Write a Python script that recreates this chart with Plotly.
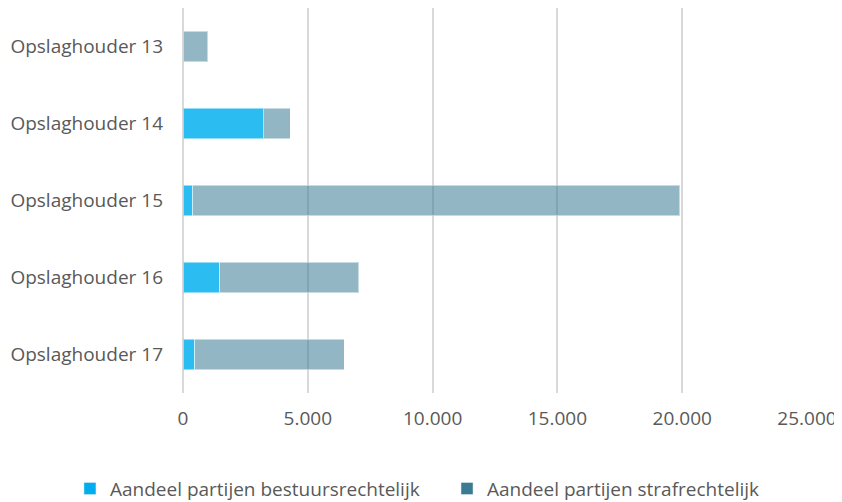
import plotly.graph_objects as go

categories = ["Opslaghouder 13", "Opslaghouder 14", "Opslaghouder 15", "Opslaghouder 16", "Opslaghouder 17"]
bestuursrechtelijk = [0, 3220, 400, 1480, 480]
strafrechtelijk = [990, 1080, 19500, 5560, 5990]
series_names = ["Aandeel partijen bestuursrechtelijk", "Aandeel partijen strafrechtelijk"]
tick_values = [0, 5000, 10000, 15000, 20000, 25000]

legend_colors = ["#00AEEF", "#3A7A93"]
bar_colors = ["rgba(0,174,239,0.83)", "rgba(58,122,147,0.55)"]
edge_colors = ["rgba(255,255,255,0.5)", "rgba(255,255,255,0.5)"]

fig = go.Figure()
for vals, name, bc, ec in zip([bestuursrechtelijk, strafrechtelijk], series_names, bar_colors, edge_colors):
    fig.add_trace(go.Bar(
        y=categories, x=vals, name=name, orientation="h",
        marker=dict(color=bc, line=dict(color=ec, width=1)),
        showlegend=False, hoverinfo="x+y",
    ))
# legend entries in full colour, each in its own legend box
for name, lc, lg in zip(series_names, legend_colors, ["legend", "legend2"]):
    fig.add_trace(go.Bar(
        y=[None], x=[None], name=name, orientation="h",
        marker=dict(color=lc), showlegend=True, legend=lg,
    ))

font_family = "Open Sans, Noto Sans, sans-serif"
legend_style = dict(
    orientation="h", xref="container", yref="container",
    xanchor="left", y=0.027, yanchor="middle",
    font=dict(size=19, color="#595959"), itemwidth=30,
)
# the page body adds an 8px margin, so the figure is sized and placed to compensate
fig.update_layout(
    width=834, height=494,
    barmode="stack", bargap=0.6,
    separators=",.",
    plot_bgcolor="white", paper_bgcolor="white",
    margin=dict(l=175, r=35, t=0, b=109),
    font=dict(family=font_family, size=19, color="#595959"),
    legend=dict(x=0.0743, **legend_style),
    legend2=dict(x=0.5264, **legend_style),
    xaxis=dict(
        range=[0, 25000], tickvals=tick_values, tickformat=",d",
        showgrid=True, gridcolor="#D9D9D9", gridwidth=2,
        zeroline=True, zerolinecolor="#D9D9D9", zerolinewidth=2,
        showline=False, ticks="", ticklabelstandoff=12,
        tickfont=dict(size=19, color="#595959"),
    ),
    yaxis=dict(
        autorange="reversed", showgrid=False, showline=False, ticks="",
        ticklabelstandoff=19, tickfont=dict(size=19, color="#595959"),
    ),
)

fig.write_html("out.html")
